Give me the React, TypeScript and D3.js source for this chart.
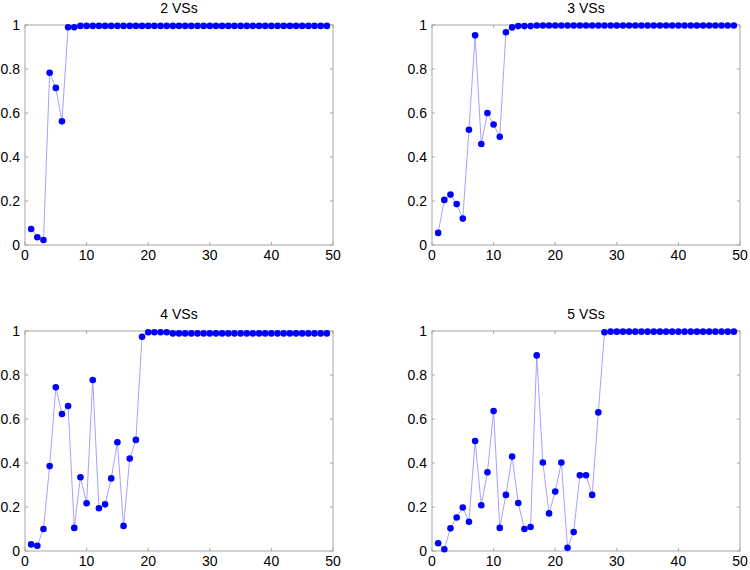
import * as d3 from "d3";
import { useRef, useEffect } from "react";

// x positions 1..49
const steps = d3.range(1, 50);

const titles = ["2 VSs", "3 VSs", "4 VSs", "5 VSs"];

const vs2 = [
  0.073, 0.035, 0.023, 0.783, 0.714, 0.562, 0.99, 0.99, 0.996, 0.996,
  0.996, 0.996, 0.996, 0.996, 0.996, 0.996, 0.996, 0.996, 0.996, 0.996,
  0.996, 0.996, 0.996, 0.996, 0.996, 0.996, 0.996, 0.996, 0.996, 0.996,
  0.996, 0.996, 0.996, 0.996, 0.996, 0.996, 0.996, 0.996, 0.996, 0.996,
  0.996, 0.996, 0.996, 0.996, 0.996, 0.996, 0.996, 0.996, 0.996,
];

const vs3 = [
  0.055, 0.205, 0.229, 0.186, 0.12, 0.524, 0.953, 0.459, 0.6, 0.548,
  0.492, 0.967, 0.989, 0.995, 0.995, 0.995, 0.998, 0.998, 0.998, 0.998,
  0.998, 0.998, 0.998, 0.998, 0.998, 0.998, 0.998, 0.998, 0.998, 0.998,
  0.998, 0.998, 0.998, 0.998, 0.998, 0.998, 0.998, 0.998, 0.998, 0.998,
  0.998, 0.998, 0.998, 0.998, 0.998, 0.998, 0.998, 0.998, 0.998,
];

const vs4 = [
  0.03, 0.024, 0.1, 0.386, 0.744, 0.623, 0.659, 0.105, 0.335, 0.217,
  0.777, 0.194, 0.212, 0.33, 0.494, 0.114, 0.42, 0.505, 0.974, 0.994,
  0.994, 0.994, 0.994, 0.989, 0.989, 0.989, 0.989, 0.989, 0.989, 0.989,
  0.989, 0.989, 0.989, 0.989, 0.989, 0.989, 0.989, 0.989, 0.989, 0.989,
  0.989, 0.989, 0.989, 0.989, 0.989, 0.989, 0.989, 0.989, 0.989,
];

const vs5 = [
  0.035, 0.008, 0.103, 0.152, 0.198, 0.133, 0.5, 0.208, 0.358, 0.636,
  0.105, 0.255, 0.429, 0.218, 0.1, 0.109, 0.889, 0.402, 0.171, 0.27,
  0.402, 0.015, 0.086, 0.344, 0.344, 0.255, 0.63, 0.994, 0.997, 0.997,
  0.997, 0.997, 0.997, 0.997, 0.997, 0.997, 0.997, 0.997, 0.997, 0.997,
  0.997, 0.997, 0.997, 0.997, 0.997, 0.997, 0.997, 0.997, 0.997,
];

const seriesList = [vs2, vs3, vs4, vs5];

const xTicks = [0, 10, 20, 30, 40, 50];
const yTicks = [0, 0.2, 0.4, 0.6, 0.8, 1];

const width = 750;
const height = 570;

// panel boxes: [left, top]
const panelW = 308;
const panelH = 220;
const origins = [
  [25, 25],
  [432, 25],
  [25, 331],
  [432, 331],
];

export default function App() {
  const svgRef = useRef<SVGSVGElement | null>(null);

  useEffect(() => {
    if (!svgRef.current) return;
    const svg = d3.select(svgRef.current);
    svg.selectAll("*").remove();

    const axisColor = "#a6a6a6";
    const font = "Arial, 'Liberation Sans', sans-serif";

    seriesList.forEach((values, i) => {
      const [left, top] = origins[i];
      const x = d3.scaleLinear().domain([0, 50]).range([left, left + panelW]);
      const y = d3.scaleLinear().domain([0, 1]).range([top + panelH, top]);
      const g = svg.append("g");

      // box
      g.append("rect")
        .attr("x", left)
        .attr("y", top)
        .attr("width", panelW)
        .attr("height", panelH)
        .attr("fill", "none")
        .attr("stroke", axisColor)
        .attr("stroke-width", 1);

      // inward ticks on all sides
      xTicks.forEach((t) => {
        g.append("line")
          .attr("x1", x(t)).attr("x2", x(t))
          .attr("y1", top + panelH).attr("y2", top + panelH - 3)
          .attr("stroke", axisColor);
        g.append("line")
          .attr("x1", x(t)).attr("x2", x(t))
          .attr("y1", top).attr("y2", top + 3)
          .attr("stroke", axisColor);
        g.append("text")
          .attr("x", x(t))
          .attr("y", top + panelH + 15)
          .attr("text-anchor", "middle")
          .attr("font-family", font)
          .attr("font-size", 14)
          .attr("fill", "#000")
          .text(t);
      });
      yTicks.forEach((t) => {
        g.append("line")
          .attr("x1", left).attr("x2", left + 3)
          .attr("y1", y(t)).attr("y2", y(t))
          .attr("stroke", axisColor);
        g.append("line")
          .attr("x1", left + panelW).attr("x2", left + panelW - 3)
          .attr("y1", y(t)).attr("y2", y(t))
          .attr("stroke", axisColor);
        g.append("text")
          .attr("x", left - 5)
          .attr("y", y(t))
          .attr("dy", "0.36em")
          .attr("text-anchor", "end")
          .attr("font-family", font)
          .attr("font-size", 14)
          .attr("fill", "#000")
          .text(t);
      });

      // title
      g.append("text")
        .attr("x", left + panelW / 2)
        .attr("y", top - 12)
        .attr("text-anchor", "middle")
        .attr("font-family", font)
        .attr("font-size", 14)
        .attr("fill", "#000")
        .text(titles[i]);

      const pts = steps.map((s, k) => ({ s, v: values[k] }));

      const line = d3
        .line<{ s: number; v: number }>()
        .x((d) => x(d.s))
        .y((d) => y(d.v));

      g.append("path")
        .datum(pts)
        .attr("fill", "none")
        .attr("stroke", "#8c8cff")
        .attr("stroke-width", 0.8)
        .attr("d", line);

      g.selectAll("circle")
        .data(pts)
        .join("circle")
        .attr("cx", (d) => x(d.s))
        .attr("cy", (d) => y(d.v))
        .attr("r", 3.3)
        .attr("fill", "#0000ff");
    });
  }, []);

  return (
    <svg
      ref={svgRef}
      width={width}
      height={height}
      style={{ position: "absolute", left: 0, top: 0, background: "#fff" }}
    ></svg>
  );
}
